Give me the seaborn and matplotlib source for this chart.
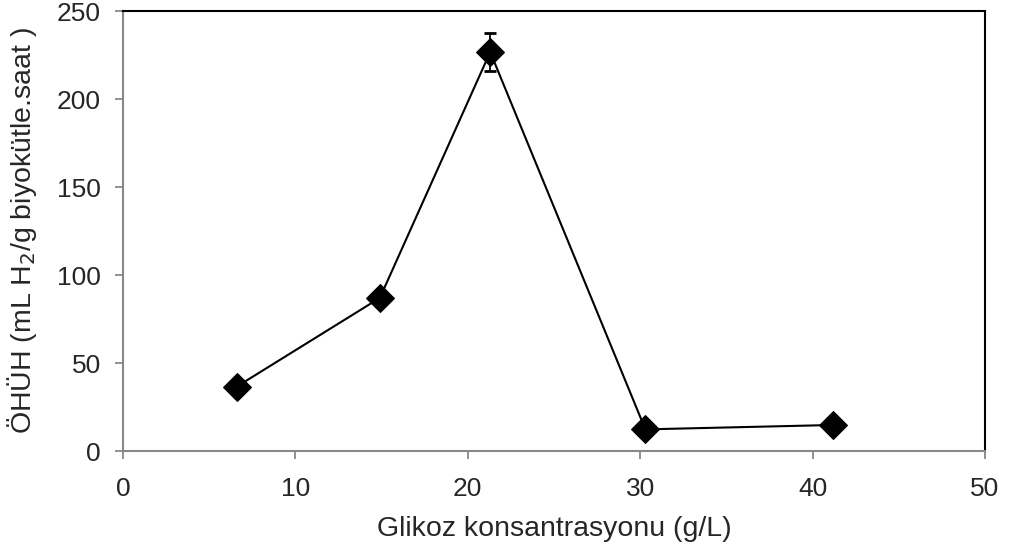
import matplotlib
matplotlib.use("Agg")
import matplotlib.pyplot as plt
import seaborn as sns
import pandas as pd

glucose = [6.6, 14.9, 21.3, 30.3, 41.2]
hpr = [36.6, 87.0, 226.7, 12.3, 14.8]
hpr_err = [1.5, 2.0, 11.0, 1.0, 1.0]

df = pd.DataFrame({"glikoz": glucose, "ohuh": hpr})

sns.set_style("white")
plt.rcParams["font.family"] = ["Liberation Sans", "DejaVu Sans"]

fig = plt.figure(figsize=(10.09, 5.53), dpi=100)
ax = fig.add_axes([0.1219, 0.1844, 0.8543, 0.7957])

ax.errorbar(glucose, hpr, yerr=hpr_err, fmt="none", ecolor="black",
            elinewidth=1.3, capsize=4.5, capthick=2, zorder=2)
sns.lineplot(data=df, x="glikoz", y="ohuh", ax=ax, color="black",
             linewidth=1.5, marker="D", markersize=14, markeredgecolor="black",
             zorder=3)

ax.set_xlim(0, 50)
ax.set_ylim(0, 250)
ax.set_xticks(range(0, 51, 10))
ax.set_yticks(range(0, 251, 50))
ax.tick_params(axis="both", labelsize=19, length=6, width=1.3, pad=10,
               color="#888888", direction="out", bottom=True, left=True)
ax.tick_params(axis="x", pad=13)

ax.set_xlabel("Glikoz konsantrasyonu (g/L)", fontsize=20.5)
ax.set_ylabel("ÖHÜH (mL H$_2$/g biyokütle.saat )", fontsize=20.5)
ax.xaxis.set_label_coords(0.5, -0.148)
ax.yaxis.set_label_coords(-0.097, 0.5)

for side in ["left", "bottom"]:
    ax.spines[side].set_color("#888888")
    ax.spines[side].set_linewidth(1.5)
for side in ["top", "right"]:
    ax.spines[side].set_color("black")
    ax.spines[side].set_linewidth(1.5)

fig.savefig("out.png", dpi=100)
